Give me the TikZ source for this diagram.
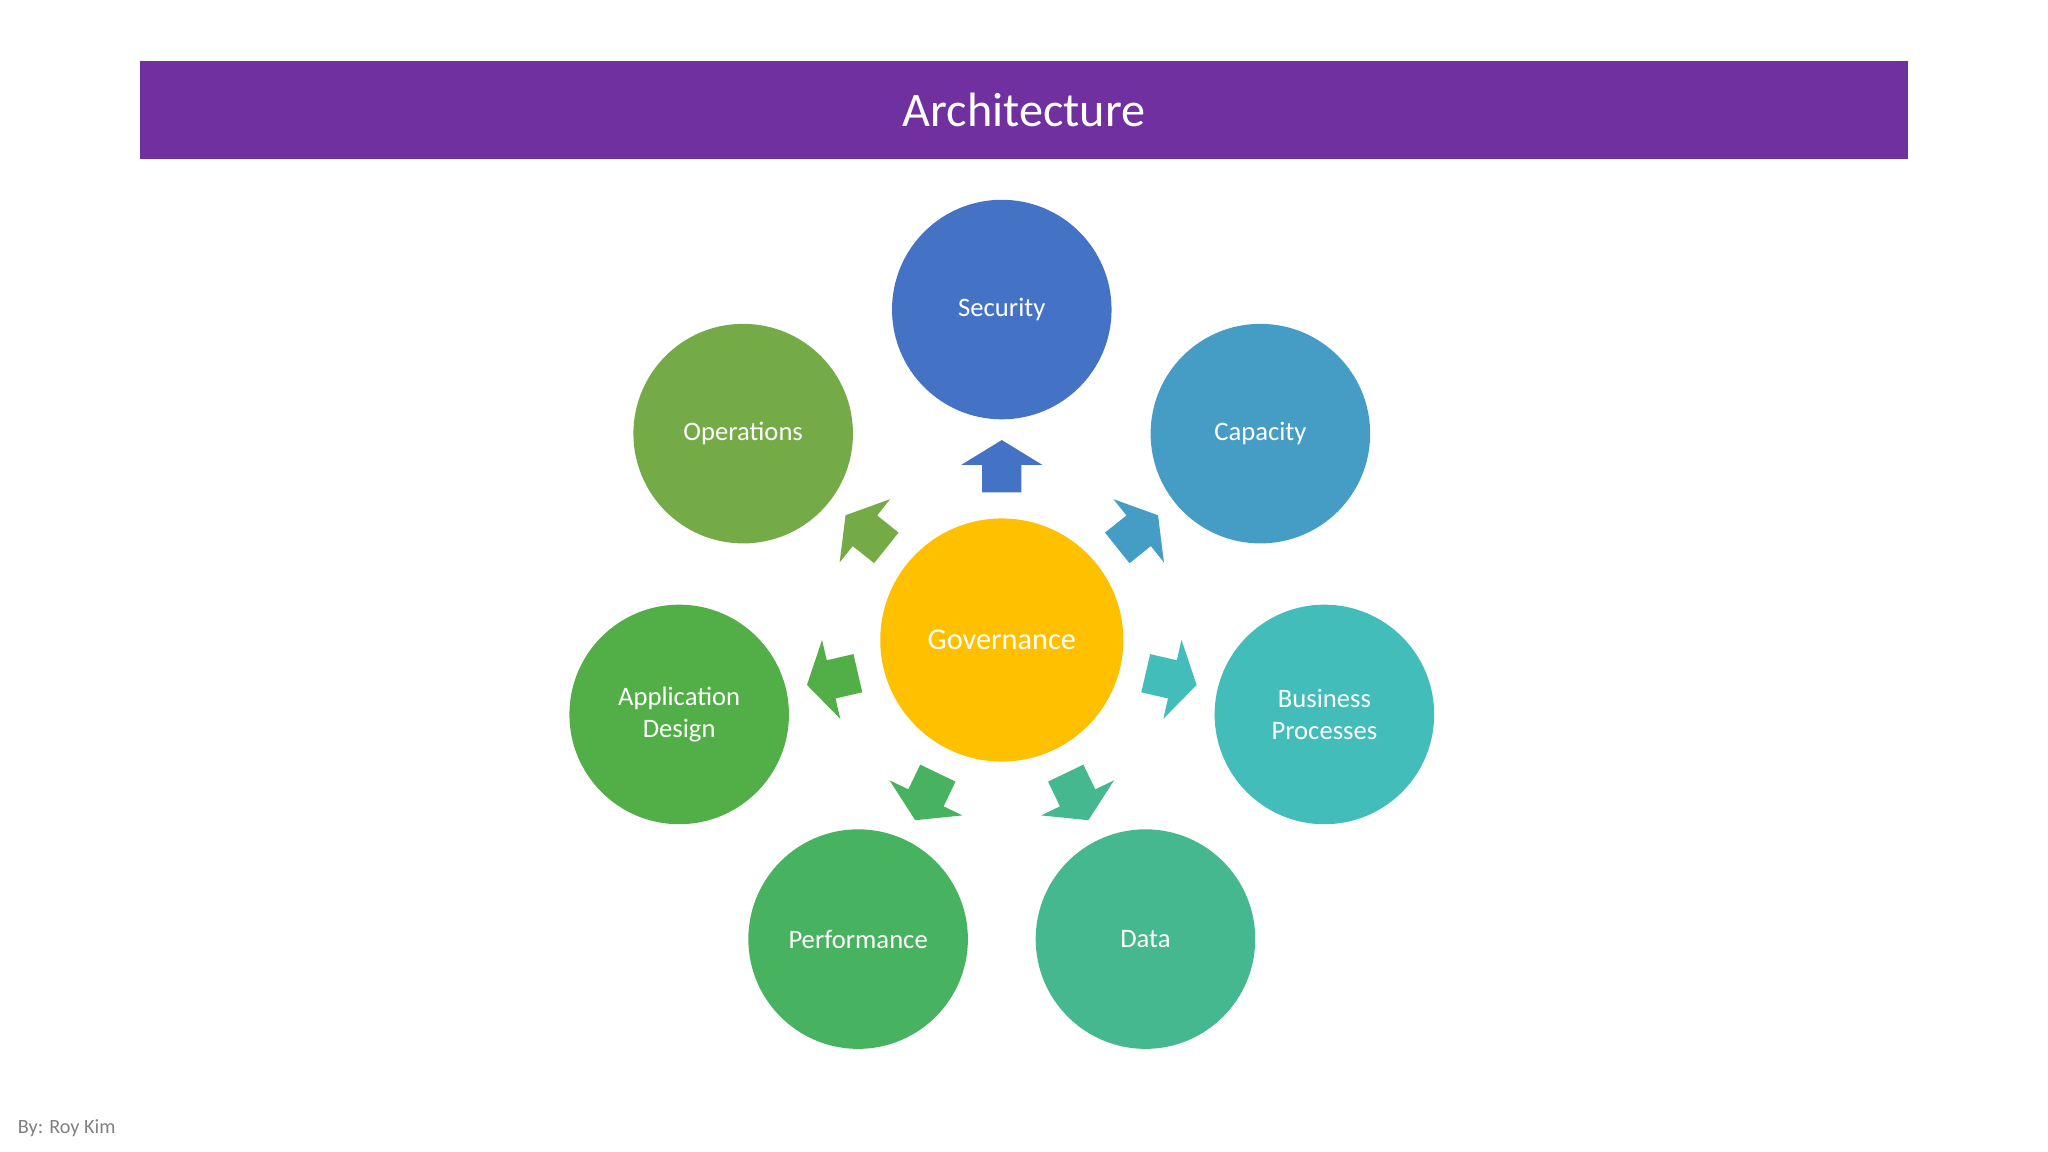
\documentclass[tikz,border=0pt]{standalone}
\usepackage{fontspec}
\setmainfont{Carlito}
\usetikzlibrary{calc}
\definecolor{cTitle}{HTML}{7030A0}
\definecolor{cSec}{HTML}{4472C4}
\definecolor{cCap}{HTML}{459DC6}
\definecolor{cBus}{HTML}{42BDB9}
\definecolor{cDat}{HTML}{45B88F}
\definecolor{cPer}{HTML}{47B260}
\definecolor{cApp}{HTML}{52AE46}
\definecolor{cOps}{HTML}{74AB47}
\definecolor{cGov}{HTML}{FFC000}
\tikzset{
 bub/.style={circle,minimum size=1.68cm,inner sep=0pt,text=white,align=center,font=\fontsize{5.8}{7}\selectfont},
}
\begin{document}
\begin{tikzpicture}[x=0.01cm,y=-0.01cm]
\useasboundingbox (0,0) rectangle (1568,882);
\fill[white] (0,0) rectangle (1568,882);
\node[fill=cTitle,minimum width=13.53cm,minimum height=0.75cm,inner sep=0pt,text=white,font=\fontsize{10.5}{12}\selectfont] (title) at (784,84) {Architecture};
\node[bub,fill=cGov,minimum size=1.86cm,font=\fontsize{6.6}{8}\selectfont] (gov) at (767,490) {Governance};
\foreach \n/\x/\y/\c/\t/\a in {sec/767/237/cSec/Security/90, cap/965/332/cCap/Capacity/38.6, bus/1014/547/cBus/Business\\Processes/-13, dat/877/719/cDat/Data/-64.3, per/657/719/cPer/Performance/-115.7, app/520/547/cApp/Application\\Design/193, ops/569/332/cOps/Operations/141.4}{
 \node[bub,fill=\c] (\n) at (\x,\y) {\t};
 \coordinate (m\n) at ($(gov)!1.32cm!(\n)$);
 \fill[\c,shift={(m\n)},rotate=\a,x=0.01cm,y=0.01cm] (-19,-15) -- (2,-15) -- (2,-31) -- (21,0) -- (2,31) -- (2,15) -- (-19,15) -- cycle;
}
\node[anchor=west,text=gray,font=\fontsize{4.4}{5}\selectfont,inner sep=0pt] (by) at (13,864) {By: Roy Kim};
\end{tikzpicture}
\end{document}
